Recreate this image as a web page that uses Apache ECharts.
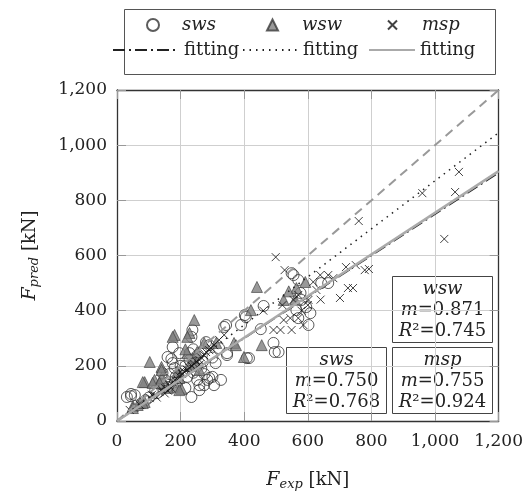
<!DOCTYPE html>
<html><head><meta charset="utf-8">
<script src="https://cdn.jsdelivr.net/npm/echarts@6/dist/echarts.min.js"></script>
<style>html,body{margin:0;padding:0;background:#fff}#c{width:526px;height:497px}</style>
</head><body><div id="c"></div>
<script>
// ---- data (kN) ----
const swsData = [[31,87],[44,90],[56,94],[44,98],[125,101],[159,123],[171,225],[175,210],[181,192],[221,160],[252,149],[284,149],[259,130],[234,87],[196,246],[175,268],[228,221],[290,275],[321,264],[234,305],[280,286],[346,246],[337,341],[390,348],[452,333],[402,384],[461,417],[492,283],[496,250],[408,228],[237,330],[343,348],[405,377],[415,228],[346,239],[159,232],[549,536],[570,511],[602,348],[664,500],[642,500],[580,439],[608,391],[570,373],[555,529],[577,464],[564,402],[595,413],[508,250],[150,150],[165,170],[190,140],[205,180],[215,200],[240,175],[265,190],[270,215],[300,230],[310,210],[255,240],[240,260],[200,200],[185,160],[145,130],[120,110],[100,85],[90,75],[215,120],[300,160],[275,170],[259,112],[305,130],[327,149],[290,156],[274,130],[228,246],[143,174]];
const wswData = [[243,366],[228,319],[181,312],[103,214],[87,141],[118,149],[140,156],[50,54],[72,65],[87,69],[187,123],[190,178],[237,228],[252,250],[274,283],[312,283],[368,283],[399,232],[455,275],[221,246],[196,156],[249,210],[259,185],[203,116],[140,196],[440,486],[564,482],[592,504],[421,402],[175,305],[221,305],[374,275],[50,47],[65,58],[81,65],[81,141],[134,138],[112,138],[140,185],[196,112],[524,439],[540,470],[560,440],[230,200],[215,260],[160,120]];
const mspData = [[40,40],[72,58],[103,83],[118,94],[134,105],[150,120],[165,130],[181,149],[196,163],[212,178],[228,192],[243,207],[259,221],[274,239],[290,257],[305,275],[321,294],[337,312],[110,95],[125,85],[140,115],[160,110],[175,140],[190,150],[205,170],[220,185],[235,200],[250,215],[265,230],[280,250],[295,265],[170,120],[200,180],[230,175],[260,205],[150,100],[492,330],[524,366],[545,373],[570,373],[586,348],[555,439],[570,457],[602,439],[627,475],[617,504],[639,529],[664,529],[680,518],[701,446],[726,482],[742,482],[720,558],[751,565],[779,547],[792,551],[760,725],[527,547],[499,594],[960,826],[1063,830],[1075,903],[1029,660],[514,330],[549,330],[600,420],[640,440],[580,400],[460,400],[520,420]];
const seriesNames = ['sws','wsw','msp'];
const slopes = [0.750, 0.871, 0.755];
const r2Values = [0.768, 0.745, 0.924];
const axisMin = 0, axisMax = 1200, axisStep = 200;

const SERIF = "'DejaVu Serif', serif";
const fmt = v => v.toLocaleString('en-US');
const fitLine = m => [[axisMin, axisMin*m],[axisMax, axisMax*m]];
const xPath = 'path://M0,0L10,10M10,0L0,10';

const chart = echarts.init(document.getElementById('c'), null, {renderer:'canvas'});

const axisCommon = {
  type:'value', min:axisMin, max:axisMax, interval:axisStep,
  axisLine:{show:true, onZero:false, lineStyle:{color:'#333', width:1.3}},
  axisTick:{show:true, inside:true, length:9, lineStyle:{color:'#999'}},
  splitLine:{show:true, lineStyle:{color:'#cfcfcf', width:1}},
};

function statBox(x, y, i){
  return {
    type:'group', left:x, top:y,
    children:[
      {type:'rect', shape:{x:0,y:0,width:100,height:66}, style:{fill:'#fff', stroke:'#444', lineWidth:1}},
      {type:'text', x:50, y:34, style:{
        text:'{i|'+seriesNames[i]+'}\n{i|m}{n|='+slopes[i].toFixed(3)+'}\n{i|R}{n|²='+r2Values[i].toFixed(3)+'}',
        align:'center', verticalAlign:'middle', lineHeight:21,
        rich:{
          i:{fontFamily:SERIF, fontStyle:'italic', fontSize:18, fill:'#222', lineHeight:21},
          n:{fontFamily:SERIF, fontSize:18, fill:'#222', lineHeight:21}
        }
      }}
    ]
  };
}

function markLeg(name, left, size, pad){
  return {
    data:[name], left:left, top:16, itemWidth:size, itemHeight:size, selectedMode:false, padding:0,
    textStyle:{fontFamily:SERIF, fontSize:18, fontStyle:'italic', color:'#222', padding:[0,0,0,pad]}
  };
}
function lineLeg(name, left, w){
  return {
    data:[name], left:left, top:41, itemWidth:w, itemHeight:12, selectedMode:false, padding:0,
    itemStyle:{opacity:0},
    formatter: () => 'fitting',
    textStyle:{fontFamily:SERIF, fontSize:18, color:'#222'}
  };
}

chart.setOption({
  animation:false,
  backgroundColor:'#fff',
  grid:{left:117, top:90, right:24, bottom:76, containLabel:false},
  xAxis:[
    Object.assign({}, axisCommon, {
      position:'bottom',
      name:'{i|F}{s|exp} [kN]', nameLocation:'middle', nameGap:48,
      nameTextStyle:{fontFamily:SERIF, fontSize:18, color:'#222', rich:{
        i:{fontFamily:SERIF, fontStyle:'italic', fontSize:19, color:'#222'},
        s:{fontFamily:SERIF, fontStyle:'italic', fontSize:13, color:'#222', padding:[9,0,0,0]}}},
      axisLabel:{formatter:fmt, fontFamily:SERIF, fontSize:17, color:'#222', margin:12}
    }),
    Object.assign({}, axisCommon, {position:'top', axisLabel:{show:false}, splitLine:{show:false}})
  ],
  yAxis:[
    Object.assign({}, axisCommon, {
      position:'left',
      name:'{i|F}{s|pred} [kN]', nameLocation:'middle', nameGap:76, nameRotate:90,
      nameTextStyle:{fontFamily:SERIF, fontSize:18, color:'#222', rich:{
        i:{fontFamily:SERIF, fontStyle:'italic', fontSize:19, color:'#222'},
        s:{fontFamily:SERIF, fontStyle:'italic', fontSize:13, color:'#222', padding:[9,0,0,0]}}},
      axisLabel:{formatter:fmt, fontFamily:SERIF, fontSize:17, color:'#222', margin:10}
    }),
    Object.assign({}, axisCommon, {position:'right', axisLabel:{show:false}, splitLine:{show:false}})
  ],
  legend:[
    markLeg('sws', 146, 12, 18),
    markLeg('wsw', 266, 11, 19),
    markLeg('msp', 387, 9, 20),
    lineLeg('sws fitting', 112, 66),
    lineLeg('wsw fitting', 242, 55),
    lineLeg('msp fitting', 368, 46)
  ],
  graphic:[
    {type:'rect', left:122, top:7, shape:{width:371, height:65}, style:{fill:'none', stroke:'#555', lineWidth:1}, z:-1},
    statBox(392, 276, 1),
    statBox(286, 347, 0),
    statBox(392, 347, 2)
  ],
  series:[
    {name:'sws', type:'scatter', data:swsData, symbol:'circle', symbolSize:11,
      itemStyle:{color:'rgba(255,255,255,0)', borderColor:'#333', borderWidth:1}},
    {name:'wsw', type:'scatter', data:wswData, symbol:'triangle', symbolSize:11,
      itemStyle:{color:'#808080', borderColor:'#3a3a3a', borderWidth:0.8}},
    {name:'msp', type:'scatter', data:mspData, symbol:xPath, symbolSize:8,
      itemStyle:{color:'rgba(0,0,0,0)', borderColor:'#111', borderWidth:1}},
    {name:'ideal', type:'line', data:fitLine(1), showSymbol:false, symbol:'none',
      lineStyle:{color:'#999', width:2, type:[9,6]}, z:3},
    {name:'sws fitting', type:'line', data:fitLine(slopes[0]), symbol:'none', itemStyle:{color:'#222'},
      lineStyle:{color:'#222', width:1.5, type:[12,4,2,4]}, z:3},
    {name:'wsw fitting', type:'line', data:fitLine(slopes[1]), symbol:'none', itemStyle:{color:'#222'},
      lineStyle:{color:'#222', width:1.5, type:[1.5,5]}, z:3},
    {name:'msp fitting', type:'line', data:fitLine(slopes[2]), symbol:'none', itemStyle:{color:'#aaa'},
      lineStyle:{color:'#aaa', width:2.5}, z:4}
  ]
});
</script></body></html>
